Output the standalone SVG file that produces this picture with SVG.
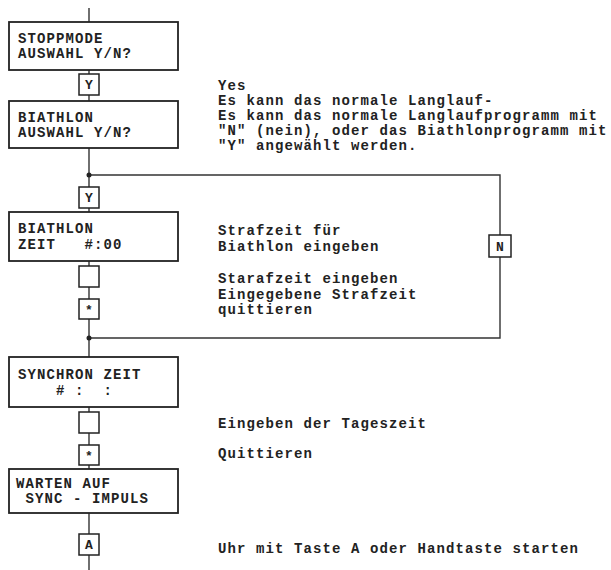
<svg xmlns="http://www.w3.org/2000/svg" width="611" height="570" viewBox="0 0 611 570">
<style>
.box{fill:#fff;stroke:#222;stroke-width:1.8}
.key{fill:#fff;stroke:#222;stroke-width:1.5}
.ln{fill:none;stroke:#333;stroke-width:1.4}
text{font-family:"Liberation Mono","Courier New",monospace;font-size:14px;letter-spacing:1.1px;font-weight:bold;fill:#222}
.k{text-anchor:middle;font-size:13px;letter-spacing:0}
</style>
<rect width="611" height="570" fill="#fff"/>
<g id="connectors">
<line class="ln" x1="89" y1="8" x2="89" y2="570"/>
<polyline class="ln" points="89,175 500,175 500,338 89,338"/>
<circle cx="89" cy="175" r="2.5" fill="#222"/>
<circle cx="89" cy="338" r="2.5" fill="#222"/>
</g>
<g id="stoppmode">
<rect class="box" x="9" y="22" width="169" height="48"/>
<text x="18" y="43">STOPPMODE</text>
<text x="18" y="58">AUSWAHL Y/N?</text>
</g>
<g id="key-y1">
<rect class="key" x="79" y="74" width="20" height="21"/>
<text class="k" x="89" y="89">Y</text>
</g>
<g id="biathlon-auswahl">
<rect class="box" x="9" y="101" width="169" height="47"/>
<text x="18" y="122">BIATHLON</text>
<text x="18" y="137">AUSWAHL Y/N?</text>
</g>
<g id="key-y2">
<rect class="key" x="79" y="187" width="20" height="21"/>
<text class="k" x="89" y="202">Y</text>
</g>
<g id="biathlon-zeit">
<rect class="box" x="9" y="212" width="169" height="49"/>
<text x="18" y="233">BIATHLON</text>
<text x="18" y="249" xml:space="preserve">ZEIT   #:00</text>
</g>
<g id="key-blank1">
<rect class="key" x="79" y="266" width="20" height="21"/>
</g>
<g id="key-star1">
<rect class="key" x="79" y="299" width="20" height="20"/>
<text class="k" x="89" y="314">*</text>
</g>
<g id="key-n">
<rect class="key" x="489" y="235" width="22" height="22"/>
<text class="k" x="500" y="251">N</text>
</g>
<g id="synchron">
<rect class="box" x="9" y="357" width="169" height="50"/>
<text x="18" y="379">SYNCHRON ZEIT</text>
<text x="18" y="395" xml:space="preserve">    # :  :</text>
</g>
<g id="key-blank2">
<rect class="key" x="79" y="412" width="20" height="21"/>
</g>
<g id="key-star2">
<rect class="key" x="79" y="445" width="20" height="20"/>
<text class="k" x="89" y="460">*</text>
</g>
<g id="warten">
<rect class="box" x="9" y="469" width="169" height="44"/>
<text x="16" y="488">WARTEN AUF</text>
<text x="16" y="503" xml:space="preserve"> SYNC - IMPULS</text>
</g>
<g id="key-a">
<rect class="key" x="79" y="534" width="20" height="21"/>
<text class="k" x="89" y="549">A</text>
</g>
<g id="notes">
<text x="218" y="90">Yes</text>
<text x="218" y="105">Es kann das normale Langlauf-</text>
<text x="218" y="120">Es kann das normale Langlaufprogramm mit</text>
<text x="218" y="135">"N" (nein), oder das Biathlonprogramm mit</text>
<text x="218" y="150">"Y" angewählt werden.</text>
<text x="218" y="235">Strafzeit für</text>
<text x="218" y="251">Biathlon eingeben</text>
<text x="218" y="283">Starafzeit eingeben</text>
<text x="218" y="299">Eingegebene Strafzeit</text>
<text x="218" y="314">quittieren</text>
<text x="218" y="428">Eingeben der Tageszeit</text>
<text x="218" y="458">Quittieren</text>
<text x="218" y="553">Uhr mit Taste A oder Handtaste starten</text>
</g>
</svg>
